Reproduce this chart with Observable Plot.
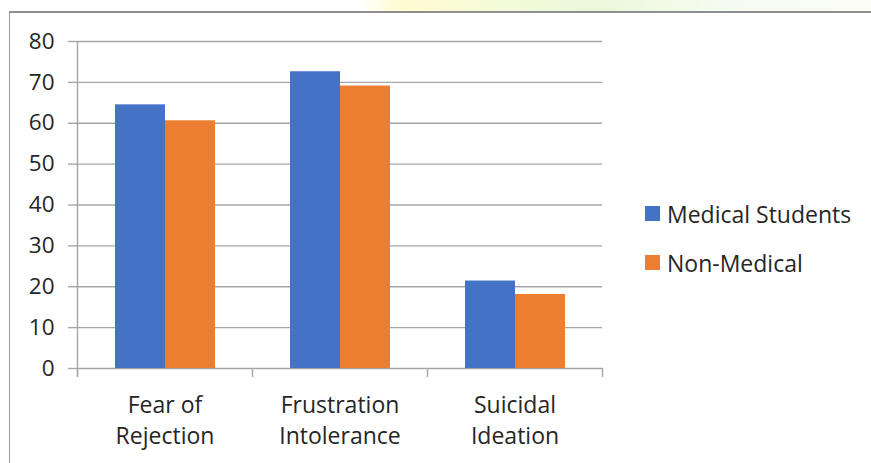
<!DOCTYPE html>
<html>
<head>
<meta charset="utf-8">
<script src="https://cdn.jsdelivr.net/npm/d3@7"></script>
<script src="https://cdn.jsdelivr.net/npm/@observablehq/plot@0.6"></script>
<style>
  html, body { margin: 0; padding: 0; background: #fff; }
  #wrap { position: relative; width: 871px; height: 463px; overflow: hidden; font-family: "Open Sans", sans-serif; }
  #wash { position: absolute; left: 360px; top: 0; width: 511px; height: 11px;
    background: linear-gradient(to right, rgba(255,255,255,0) 0%, #fffbd2 8%, #f3fbd9 30%, #eaf8da 45%, #f6fbef 70%, #fbfdf6 100%); }
  #frame { position: absolute; left: 9px; top: 11px; right: -5px; bottom: -5px;
    border-top: 2px solid #8f8f8f; border-left: 1.5px solid #9a9a9a; pointer-events: none; }
  #chart { position: absolute; left: 0; top: 0; }
  #legend { position: absolute; left: 645px; top: 189px; }
  .lg-swatches { margin: 0 !important; font-family: "Open Sans", sans-serif !important; font-size: 23px !important; color: #262626 !important; columns: 1 !important; min-height: 0 !important; }
  .lg-swatch { height: 49px !important; padding: 0 !important; margin: 0 !important; display: flex !important; align-items: center !important; }
  .lg-swatch svg { margin-right: 7px !important; }
</style>
</head>
<body>
<div id="wrap">
  <div id="wash"></div>
  <div id="frame"></div>
  <div id="chart"></div>
  <div id="legend"></div>
</div>
<script>
const categories = ["Fear of Rejection", "Frustration Intolerance", "Suicidal Ideation"];
const categoryLabels = ["Fear of\nRejection", "Frustration\nIntolerance", "Suicidal\nIdeation"];
const series = ["Medical Students", "Non-Medical"];
const medicalStudents = [64.5, 72.6, 21.4];
const nonMedical = [60.6, 69.1, 18.1];
const yTicks = [0, 10, 20, 30, 40, 50, 60, 70, 80];
const seriesColors = ["#4472C4", "#ED7D31"];

const data = categories.flatMap((c, i) => [
  {category: c, series: series[0], value: medicalStudents[i]},
  {category: c, series: series[1], value: nonMedical[i]}
]);

const gridColor = "#a6a6a6";
const textColor = "#262626";
const facetHalf = (871 - 77 - 269) / categories.length / 2;

const chart = Plot.plot({
  width: 871,
  height: 463,
  marginTop: 41,
  marginBottom: 95,
  marginLeft: 77,
  marginRight: 269,
  style: {fontFamily: "Open Sans, sans-serif", background: "transparent", overflow: "visible"},
  fx: {domain: categories, padding: 0, axis: null, label: null},
  x: {domain: series, paddingInner: 0, paddingOuter: 0.75, axis: null},
  y: {domain: [0, 80], axis: null},
  color: {domain: series, range: seriesColors},
  marks: [
    Plot.gridY(yTicks, {stroke: gridColor, strokeOpacity: 1, strokeWidth: 1.4}),
    Plot.axisY(yTicks, {tickSize: 9, tickPadding: 14, fontSize: 22.5, stroke: gridColor, strokeWidth: 1.4, fill: textColor, label: null}),
    Plot.barY(data, {fx: "category", x: "series", y: "value", fill: "series"}),
    Plot.ruleX(categories, {fx: d => d, x: null, y1: 0, y2: -2.2, dx: -facetHalf, stroke: gridColor, strokeWidth: 1.4}),
    Plot.ruleX([categories[0]], {fx: d => d, x: null, y1: -2.2, y2: 80, dx: -facetHalf, stroke: gridColor, strokeWidth: 1.4}),
    Plot.ruleX([categories[categories.length - 1]], {fx: d => d, x: null, y1: -2.2, y2: 0, dx: facetHalf, stroke: gridColor, strokeWidth: 1.4}),
    Plot.axisFx({anchor: "bottom", tickSize: 0, tickPadding: 22, fontSize: 23, lineHeight: 1.35, fill: textColor, label: null,
      tickFormat: d => categoryLabels[categories.indexOf(d)]})
  ]
});
document.getElementById("chart").append(chart);

const legend = Plot.legend({
  color: {domain: series, range: seriesColors},
  legend: "swatches",
  columns: 1,
  swatchSize: 15,
  className: "lg"
});
document.getElementById("legend").append(legend);
</script>
</body>
</html>
